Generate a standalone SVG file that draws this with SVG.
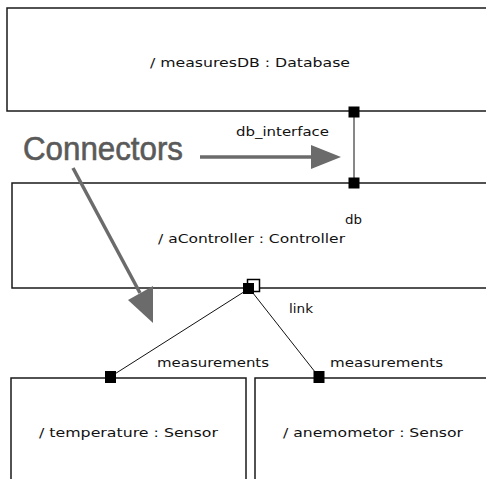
<svg xmlns="http://www.w3.org/2000/svg" width="486" height="479" viewBox="0 0 486 479">
<style>
.box{fill:#fff;stroke:#1a1a1a;stroke-width:1.5}
.port{fill:#000}
.lbl{font-family:"DejaVu Sans",Verdana,sans-serif;font-size:13px;fill:#111}
.conn{stroke:#111;stroke-width:1;fill:none}
.ann{stroke:#6b6b6b;stroke-width:3.5;fill:none}
.annhead{fill:#6b6b6b}
</style>
<rect x="0" y="0" width="486" height="479" fill="#fff"/>
<g id="measuresDB">
<rect class="box" x="7" y="8" width="500" height="103"/>
<text class="lbl" x="150" y="67" textLength="200" lengthAdjust="spacingAndGlyphs">/ measuresDB : Database</text>
</g>
<g id="aController">
<rect class="box" x="12" y="183" width="500" height="105"/>
<text class="lbl" x="158" y="243" textLength="187" lengthAdjust="spacingAndGlyphs">/ aController : Controller</text>
<text class="lbl" x="345" y="224" textLength="17" lengthAdjust="spacingAndGlyphs">db</text>
</g>
<g id="temperature">
<rect class="box" x="11" y="378" width="235" height="120"/>
<text class="lbl" x="39" y="437" textLength="179" lengthAdjust="spacingAndGlyphs">/ temperature : Sensor</text>
</g>
<g id="anemometor">
<rect class="box" x="255" y="378" width="260" height="120"/>
<text class="lbl" x="283" y="437" textLength="180" lengthAdjust="spacingAndGlyphs">/ anemometor : Sensor</text>
</g>
<g id="connectors">
<line class="conn" x1="354" y1="112" x2="354" y2="183" stroke-width="1.5"/>
<line class="conn" x1="250" y1="288" x2="110" y2="377"/>
<line class="conn" x1="249" y1="288" x2="319" y2="377"/>
<text class="lbl" x="236" y="136" textLength="93" lengthAdjust="spacingAndGlyphs">db_interface</text>
<text class="lbl" x="289" y="313" textLength="24" lengthAdjust="spacingAndGlyphs">link</text>
<text class="lbl" x="157" y="367" textLength="112" lengthAdjust="spacingAndGlyphs">measurements</text>
<text class="lbl" x="330" y="367" textLength="113" lengthAdjust="spacingAndGlyphs">measurements</text>
</g>
<g id="ports">
<rect class="port" x="348.5" y="106.5" width="11" height="11"/>
<rect class="port" x="348.5" y="177.5" width="11" height="11"/>
<rect x="247.5" y="279.5" width="12" height="12" fill="#fff" stroke="#000" stroke-width="1.5"/>
<rect class="port" x="243" y="283" width="11" height="11"/>
<rect class="port" x="105" y="371" width="11" height="12"/>
<rect class="port" x="313.5" y="371" width="11" height="12"/>
</g>
<g id="annotation">
<text x="23" y="160" font-family="Liberation Sans,Arial,sans-serif" font-size="33" fill="#5a5a5a" stroke="#5a5a5a" stroke-width="0.6" textLength="160" lengthAdjust="spacingAndGlyphs">Connectors</text>
<line class="ann" x1="200" y1="157" x2="315" y2="157"/>
<polygon class="annhead" points="311,145 341,157 311,169"/>
<line class="ann" x1="73" y1="168" x2="140" y2="293"/>
<polygon class="annhead" points="128,300 153,286 153,323"/>
</g>
</svg>
